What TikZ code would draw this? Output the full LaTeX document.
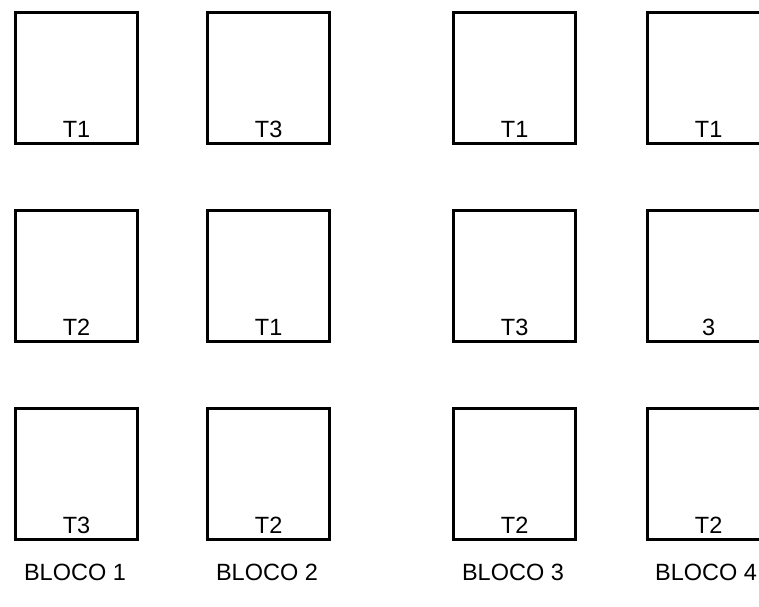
\documentclass[tikz,border=0pt]{standalone}
\usepackage{fontspec}
\setmainfont{Liberation Sans}
\begin{document}
\begin{tikzpicture}[x=1pt,y=-1pt,
  cell/.style={draw=black, line width=3.2pt, minimum width=122pt, minimum height=131pt, inner sep=0pt, anchor=north west, fill=white},
  tlabel/.style={anchor=base, inner sep=0pt, font=\fontsize{23.5}{27}\selectfont},
  blabel/.style={anchor=base, inner sep=0pt, font=\fontsize{23.5}{27}\selectfont}]
\useasboundingbox (0,0) rectangle (759,606);
\clip (0,0) rectangle (759,606);
% column 1
\node[cell] (a1) at (14,11) {};
\node[cell] (a2) at (14,209) {};
\node[cell] (a3) at (14,407) {};
% column 2
\node[cell] (b1) at (206,11) {};
\node[cell] (b2) at (206,209) {};
\node[cell] (b3) at (206,407) {};
% column 3
\node[cell] (c1) at (452,11) {};
\node[cell] (c2) at (452,209) {};
\node[cell] (c3) at (452,407) {};
% column 4
\node[cell] (d1) at (646,11) {};
\node[cell] (d2) at (646,209) {};
\node[cell] (d3) at (646,407) {};
% labels
\node[tlabel] (la1) at ([yshift=8pt]a1.south) {T1};
\node[tlabel] (la2) at ([yshift=8pt]a2.south) {T2};
\node[tlabel] (la3) at ([yshift=8pt]a3.south) {T3};
\node[tlabel] (lb1) at ([yshift=8pt]b1.south) {T3};
\node[tlabel] (lb2) at ([yshift=8pt]b2.south) {T1};
\node[tlabel] (lb3) at ([yshift=8pt]b3.south) {T2};
\node[tlabel] (lc1) at ([yshift=8pt]c1.south) {T1};
\node[tlabel] (lc2) at ([yshift=8pt]c2.south) {T3};
\node[tlabel] (lc3) at ([yshift=8pt]c3.south) {T2};
\node[tlabel] (ld1) at ([yshift=8pt]d1.south) {T1};
\node[tlabel] (ld2) at ([yshift=8pt]d2.south) {3};
\node[tlabel] (ld3) at ([yshift=8pt]d3.south) {T2};
% block labels
\node[blabel] (B1) at (75,580) {BLOCO 1};
\node[blabel] (B2) at (267,580) {BLOCO 2};
\node[blabel] (B3) at (513,580) {BLOCO 3};
\node[blabel] (B4) at (706,580) {BLOCO 4};
\end{tikzpicture}
\end{document}
